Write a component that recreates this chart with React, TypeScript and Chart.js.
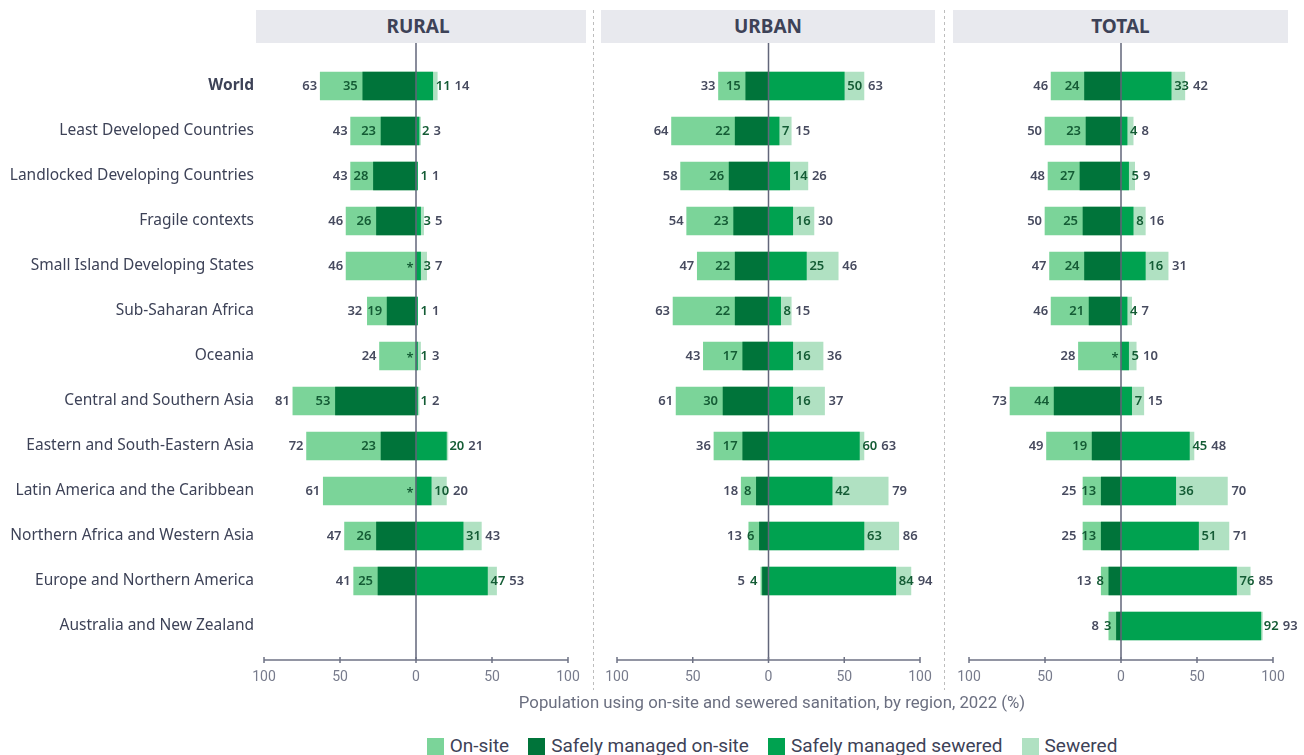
import React, { useEffect, useRef } from 'react';
import { Chart, registerables } from 'chart.js';
Chart.register(...registerables);

const categories = [
  'World',
  'Least Developed Countries',
  'Landlocked Developing Countries',
  'Fragile contexts',
  'Small Island Developing States',
  'Sub-Saharan Africa',
  'Oceania',
  'Central and Southern Asia',
  'Eastern and South-Eastern Asia',
  'Latin America and the Caribbean',
  'Northern Africa and Western Asia',
  'Europe and Northern America',
  'Australia and New Zealand',
];

const ruralOnsite = [63, 43, 43, 46, 46, 32, 24, 81, 72, 61, 47, 41, null];
const ruralSafeOnsite = [35, 23, 28, 26, null, 19, null, 53, 23, null, 26, 25, null];
const ruralSafeSewered = [11, 2, 1, 3, 3, 1, 1, 1, 20, 10, 31, 47, null];
const ruralSewered = [14, 3, 1, 5, 7, 1, 3, 2, 21, 20, 43, 53, null];

const urbanOnsite = [33, 64, 58, 54, 47, 63, 43, 61, 36, 18, 13, 5, null];
const urbanSafeOnsite = [15, 22, 26, 23, 22, 22, 17, 30, 17, 8, 6, 4, null];
const urbanSafeSewered = [50, 7, 14, 16, 25, 8, 16, 16, 60, 42, 63, 84, null];
const urbanSewered = [63, 15, 26, 30, 46, 15, 36, 37, 63, 79, 86, 94, null];

const totalOnsite = [46, 50, 48, 50, 47, 46, 28, 73, 49, 25, 25, 13, 8];
const totalSafeOnsite = [24, 23, 27, 25, 24, 21, null, 44, 19, 13, 13, 8, 3];
const totalSafeSewered = [33, 4, 5, 8, 16, 4, 5, 7, 45, 36, 51, 76, 92];
const totalSewered = [42, 8, 9, 16, 31, 7, 10, 15, 48, 70, 71, 85, 93];

const xTicks = [-100, -50, 0, 50, 100];
const xTickLabels = ['100', '50', '0', '50', '100'];

const panelTitles = ['RURAL', 'URBAN', 'TOTAL'];
const seriesNames = ['On-site', 'Safely managed on-site', 'Safely managed sewered', 'Sewered'];

const C_ON = '#7bd499';
const C_SON = '#00743a';
const C_SSEW = '#00a250';
const C_SEW = '#b0e1c2';
const seriesColors = [C_ON, C_SON, C_SSEW, C_SEW];

const TXT = '#3d4257';
const LBL_GRAY = '#474b5f';
const LBL_GREEN = '#145c35';
const AXIS = '#6e7284';

type Panel = {
  onsite: (number | null)[];
  safeOnsite: (number | null)[];
  safeSewered: (number | null)[];
  sewered: (number | null)[];
};

const panels: Panel[] = [
  { onsite: ruralOnsite, safeOnsite: ruralSafeOnsite, safeSewered: ruralSafeSewered, sewered: ruralSewered },
  { onsite: urbanOnsite, safeOnsite: urbanSafeOnsite, safeSewered: urbanSafeSewered, sewered: urbanSewered },
  { onsite: totalOnsite, safeOnsite: totalSafeOnsite, safeSewered: totalSafeSewered, sewered: totalSewered },
];

const neg = (a: (number | null)[]) => a.map((v) => (v == null ? null : -v));

const LABEL_FONT = '600 13px "Noto Sans"';

const CANVAS_TOP = 43;
const CANVAS_H = 650;
const AREA_TOP = 20.5;
const AREA_BOTTOM = 605.5;
const AXIS_Y = 617; // canvas coords (page 660)
const TICK_LABEL_Y = 634; // canvas coords (page 677)

function makePlugin(p: Panel) {
  return {
    id: 'customDraw',
    afterDatasetsDraw(chart: any) {
      const ctx = chart.ctx as CanvasRenderingContext2D;
      const xs = chart.scales.x;
      const ys = chart.scales.y;
      const x0 = xs.getPixelForValue(0);
      ctx.save();
      // zero line
      ctx.strokeStyle = '#62667a';
      ctx.lineWidth = 1.5;
      ctx.beginPath();
      ctx.moveTo(x0, 0);
      ctx.lineTo(x0, AXIS_Y);
      ctx.stroke();
      // axis line + ticks + tick labels
      ctx.strokeStyle = AXIS;
      ctx.lineWidth = 1.5;
      ctx.beginPath();
      ctx.moveTo(xs.getPixelForValue(-100), AXIS_Y);
      ctx.lineTo(xs.getPixelForValue(100), AXIS_Y);
      ctx.stroke();
      ctx.font = '14px Roboto';
      ctx.fillStyle = '#777b8c';
      ctx.textAlign = 'center';
      ctx.textBaseline = 'middle';
      xTicks.forEach((t, k) => {
        const px = xs.getPixelForValue(t);
        ctx.beginPath();
        ctx.moveTo(px, AXIS_Y - 3);
        ctx.lineTo(px, AXIS_Y + 3);
        ctx.stroke();
        ctx.fillText(xTickLabels[k], px, TICK_LABEL_Y);
      });
      // value labels
      ctx.font = LABEL_FONT;
      ctx.textBaseline = 'middle';
      categories.forEach((_, i) => {
        const y = ys.getPixelForValue(i);
        const on = p.onsite[i];
        const son = p.safeOnsite[i];
        const ss = p.safeSewered[i];
        const sw = p.sewered[i];
        if (on != null) {
          const onEnd = xs.getPixelForValue(-on);
          let limit = onEnd - 3;
          if (son != null) {
            const dEnd = xs.getPixelForValue(-son);
            const s = String(son);
            const w = ctx.measureText(s).width;
            const right = dEnd - 5;
            ctx.fillStyle = LBL_GREEN;
            ctx.textAlign = 'right';
            ctx.fillText(s, right, y);
            limit = Math.min(limit, right - w - 5);
          } else {
            ctx.fillStyle = LBL_GREEN;
            ctx.textAlign = 'center';
            ctx.fillText('*', x0 - 6, y + 2);
          }
          ctx.fillStyle = LBL_GRAY;
          ctx.textAlign = 'right';
          ctx.fillText(String(on), limit, y);
        }
        if (ss != null && sw != null) {
          const sEnd = xs.getPixelForValue(ss);
          const wEnd = xs.getPixelForValue(sw);
          const s = String(ss);
          const w = ctx.measureText(s).width;
          const left = sEnd + 3;
          ctx.fillStyle = LBL_GREEN;
          ctx.textAlign = 'left';
          ctx.fillText(s, left, y);
          ctx.fillStyle = LBL_GRAY;
          ctx.fillText(String(sw), Math.max(wEnd + 4, left + w + 4), y);
        }
      });
      ctx.restore();
    },
  };
}

type Geo = { left: number; width: number; showY: boolean; areaLeft: number; areaRight: number };
const geos: Geo[] = [
  { left: 0, width: 588, showY: true, areaLeft: 264, areaRight: 568 },
  { left: 597, width: 345, showY: false, areaLeft: 20, areaRight: 323 },
  { left: 949, width: 355, showY: false, areaLeft: 20, areaRight: 324 },
];

function PanelChart({ idx }: { idx: number }) {
  const ref = useRef<HTMLCanvasElement>(null);
  useEffect(() => {
    const p = panels[idx];
    const g = geos[idx];
    const common = { grouped: false, barThickness: 28, borderWidth: 0 };
    const pad = { left: g.showY ? 0 : g.areaLeft, right: g.width - g.areaRight, top: AREA_TOP, bottom: 0 };
    const chart = new Chart(ref.current!, {
      type: 'bar',
      data: {
        labels: categories,
        datasets: [
          { label: seriesNames[0], data: neg(p.onsite), backgroundColor: C_ON, order: 2, ...common },
          { label: seriesNames[1], data: neg(p.safeOnsite), backgroundColor: C_SON, order: 1, ...common },
          { label: seriesNames[2], data: p.safeSewered, backgroundColor: C_SSEW, order: 1, ...common },
          { label: seriesNames[3], data: p.sewered, backgroundColor: C_SEW, order: 2, ...common },
        ] as any,
      },
      options: {
        indexAxis: 'y',
        animation: false,
        responsive: false,
        maintainAspectRatio: false,
        layout: { padding: pad },
        plugins: { legend: { display: false }, tooltip: { enabled: false } },
        scales: {
          x: {
            min: -100,
            max: 100,
            afterBuildTicks: (s: any) => {
              s.ticks = xTicks.map((v) => ({ value: v }));
            },
            ticks: { display: false },
            grid: { display: false, drawTicks: false },
            border: { display: false },
            afterFit: (s: any) => {
              s.height = CANVAS_H - AREA_BOTTOM;
            },
          },
          y: {
            display: g.showY,
            ticks: {
              color: TXT,
              padding: 10,
              font: (c: any) => ({
                family: 'Noto Sans',
                size: 15.5,
                weight: c.index === 0 ? 'bold' : 'normal',
              }),
            },
            grid: { display: false, drawTicks: false },
            border: { display: false },
            afterFit: (s: any) => {
              if (g.showY) s.width = g.areaLeft;
            },
          },
        },
      } as any,
      plugins: [makePlugin(p)],
    });
    // correct scale to target pixel positions
    for (let k = 0; k < 4; k++) {
      const xs: any = chart.scales.x;
      const l = xs.getPixelForValue(-100);
      const r = xs.getPixelForValue(100);
      const dl = g.areaLeft - l;
      const dr = r - g.areaRight;
      const dt = AREA_TOP - chart.chartArea.top;
      const db = chart.chartArea.bottom - AREA_BOTTOM;
      if (Math.abs(dl) < 0.2 && Math.abs(dr) < 0.2 && Math.abs(dt) < 0.2 && Math.abs(db) < 0.2) break;
      if (!g.showY) pad.left += dl;
      pad.right += dr;
      pad.top += dt;
      pad.bottom += db;
      (chart.options as any).layout.padding = { ...pad };
      chart.update();
    }
    return () => chart.destroy();
  }, [idx]);
  const g = geos[idx];
  return (
    <canvas
      ref={ref}
      width={g.width}
      height={CANVAS_H}
      style={{ position: 'absolute', left: g.left, top: CANVAS_TOP, width: g.width, height: CANVAS_H }}
    />
  );
}

const headerBoxes = [
  { left: 256, width: 330, shift: -3 },
  { left: 601, width: 334, shift: 0 },
  { left: 953, width: 335, shift: 0 },
];
const separators = [593, 944];

export default function App() {
  return (
    <div
      style={{
        position: 'fixed',
        left: 0,
        top: 0,
        width: 1304,
        height: 755,
        background: '#fff',
        overflow: 'hidden',
        fontFamily: 'Roboto, sans-serif',
      }}
    >
      {headerBoxes.map((h, i) => (
        <div
          key={i}
          style={{
            position: 'absolute',
            left: h.left,
            top: 10,
            width: h.width,
            height: 33,
            background: '#e8e9ee',
            color: TXT,
            fontFamily: '"Noto Sans"',
            fontWeight: 700,
            fontSize: 19,
            lineHeight: '33px',
            textAlign: 'center',
          }}
        >
          <span style={{ position: 'relative', left: h.shift }}>{panelTitles[i]}</span>
        </div>
      ))}
      {[0, 1, 2].map((i) => (
        <PanelChart key={i} idx={i} />
      ))}
      {separators.map((x, i) => (
        <div
          key={i}
          style={{
            position: 'absolute',
            left: x,
            top: 10,
            width: 1,
            height: 680,
            backgroundImage: 'repeating-linear-gradient(to bottom, #bdbdbd 0 3px, transparent 3px 6px)',
          }}
        />
      ))}
      <div
        style={{
          position: 'absolute',
          left: 256,
          width: 1032,
          top: 691,
          height: 22,
          lineHeight: '22px',
          textAlign: 'center',
          fontSize: 16.8,
          color: '#6b6f80',
        }}
      >
        Population using on-site and sewered sanitation, by region, 2022 (%)
      </div>
      <div
        style={{
          position: 'absolute',
          left: 256,
          width: 1032,
          top: 734,
          height: 24,
          display: 'flex',
          justifyContent: 'center',
          alignItems: 'center',
          gap: 19,
          fontSize: 19,
          color: TXT,
        }}
      >
        {seriesNames.map((n, i) => (
          <div key={i} style={{ display: 'flex', alignItems: 'center', gap: 6 }}>
            <span style={{ display: 'inline-block', width: 17, height: 17, background: seriesColors[i] }} />
            <span style={{ lineHeight: '24px' }}>{n}</span>
          </div>
        ))}
      </div>
    </div>
  );
}
